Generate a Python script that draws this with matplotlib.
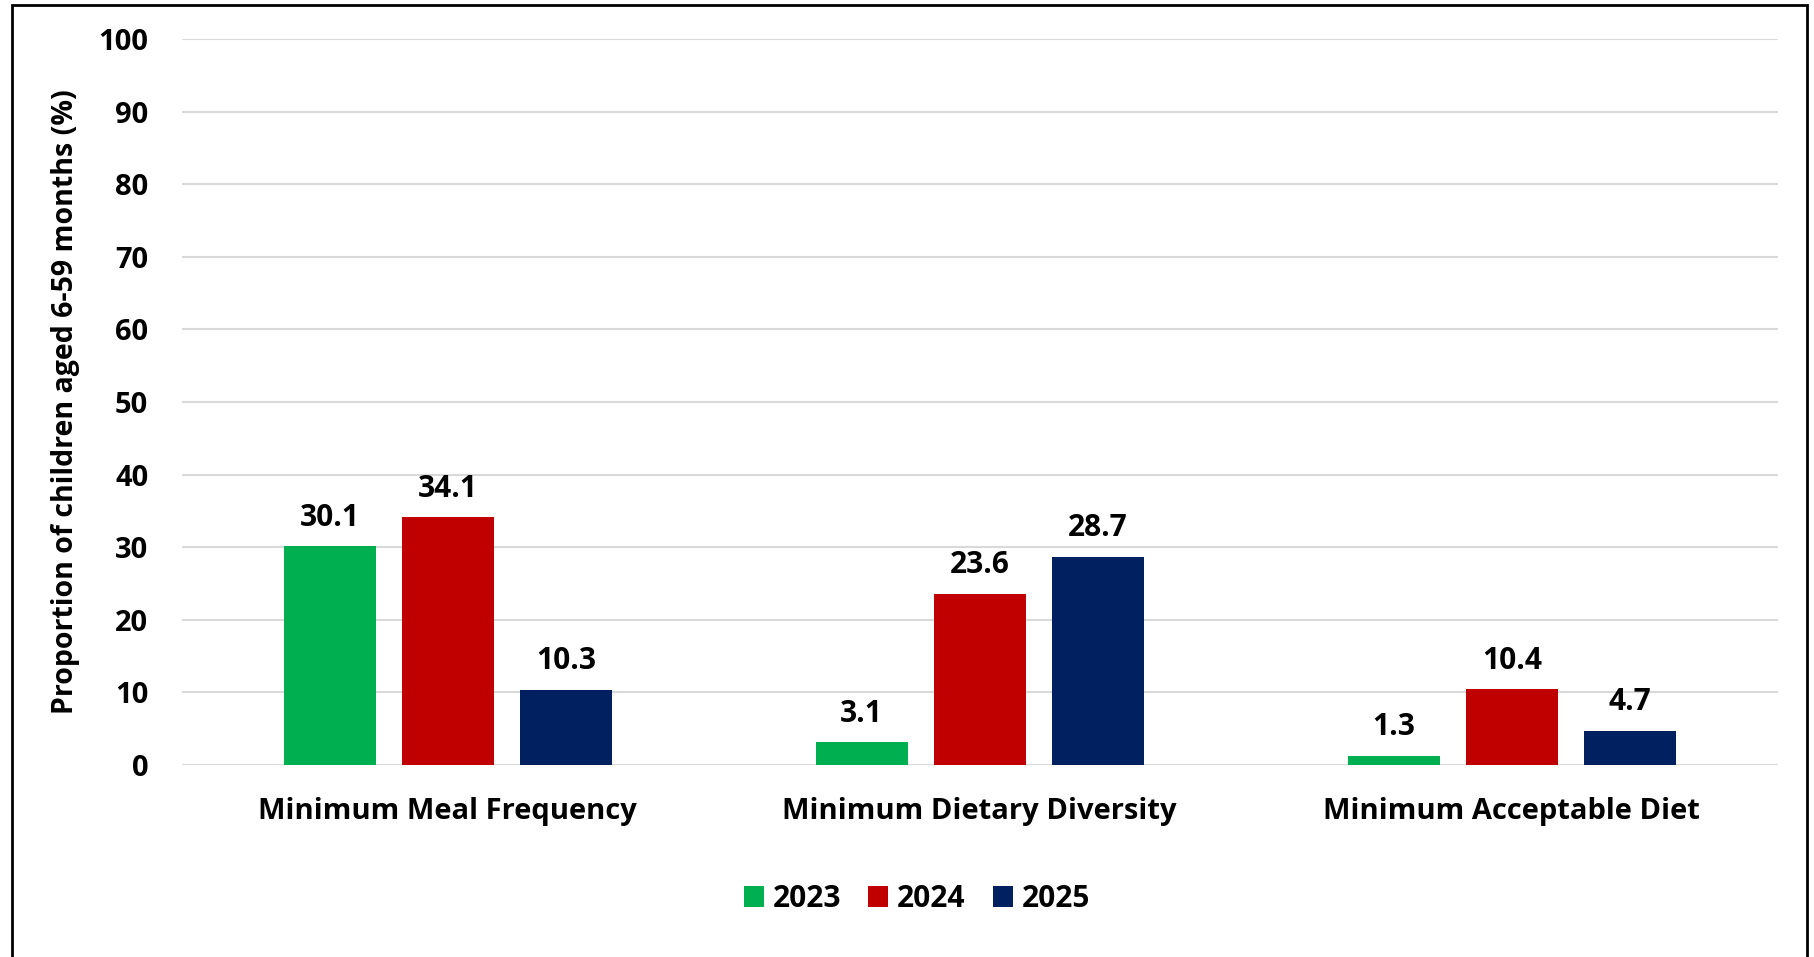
import matplotlib.pyplot as plt
import matplotlib.patches as patches
import numpy as np

plt.rcParams['font.family'] = ['Open Sans', 'DejaVu Sans']
plt.rcParams['font.weight'] = 'bold'

# data
categories = ['Minimum Meal Frequency', 'Minimum Dietary Diversity', 'Minimum Acceptable Diet']
years = ['2023', '2024', '2025']
vals_2023 = [30.1, 3.1, 1.3]
vals_2024 = [34.1, 23.6, 10.4]
vals_2025 = [10.3, 28.7, 4.7]
colors = ['#00B050', '#C00000', '#002060']

W, H = 1814, 957
fig = plt.figure(figsize=(W / 100, H / 100), dpi=100)
ax = fig.add_axes([181.6 / W, (H - 765) / H, (1778 - 181.6) / W, (765 - 39) / H])

x = np.arange(len(categories))
width = 0.173
step = 0.222
series = [vals_2023, vals_2024, vals_2025]
for i, (vals, yr, col) in enumerate(zip(series, years, colors)):
    bars = ax.bar(x + (i - 1) * step, vals, width, color=col, label=yr, zorder=3)
    for b, v in zip(bars, vals):
        ax.annotate(f'{v:.1f}', (b.get_x() + b.get_width() / 2, v),
                    xytext=(0, 10), textcoords='offset points',
                    ha='center', va='bottom', fontsize=21.5, fontweight='bold')

ax.set_xlim(-0.5, 2.5)
ax.set_ylim(0, 100)
ax.set_yticks(np.arange(0, 101, 10))
ax.set_xticks(x)
ax.set_xticklabels(categories, fontweight='bold')
ax.set_yticklabels([str(v) for v in range(0, 101, 10)], fontweight='bold')
ax.tick_params(axis='both', length=0, labelsize=21)
ax.tick_params(axis='y', pad=24)
ax.tick_params(axis='x', pad=23)
ax.grid(axis='y', color='#D9D9D9', linewidth=1.5, zorder=0)
for s in ax.spines.values():
    s.set_visible(False)

ax.set_ylabel('Proportion of children aged 6-59 months (%)', fontsize=20.5, fontweight='bold')
ax.yaxis.set_label_coords((80 - 181.6) / (1778 - 181.6), 0.5)

fig.legend(loc='center', bbox_to_anchor=(917 / W, 1 - 899 / H), ncol=3, frameon=False,
           prop={'size': 21.5, 'weight': 'bold'}, handlelength=0.66, handleheight=0.66,
           handletextpad=0.3, columnspacing=0.92)

# outer border
fig.patches.append(patches.Rectangle((12 / W, -0.02), (1807 - 12) / W, (H - 5) / H + 0.02,
                                     transform=fig.transFigure, fill=False,
                                     edgecolor='black', linewidth=2))

fig.savefig('out.png', dpi=100)
